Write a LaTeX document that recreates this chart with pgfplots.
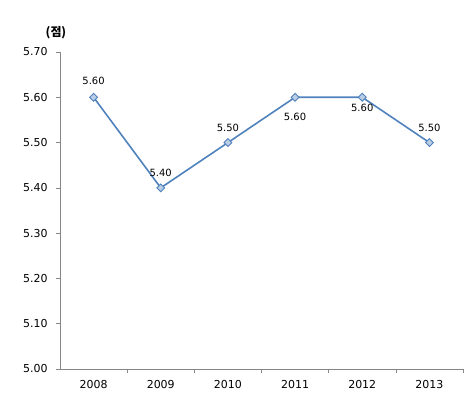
\documentclass[border=0pt]{standalone}
\usepackage{pgfplots}
\pgfplotsset{compat=1.18}
\usepackage{fontspec}
\setmainfont{DejaVu Sans}
\newfontfamily\kr{Noto Sans CJK KR}
\definecolor{linec}{RGB}{79,129,189}
\definecolor{markf}{RGB}{185,205,229}
\definecolor{axc}{RGB}{134,134,134}
\begin{document}
\begin{tikzpicture}
\useasboundingbox (0,0) rectangle (467bp,415bp);
\begin{axis}[
  at={(60bp,46bp)}, anchor=south west,
  scale only axis, width=403bp, height=317bp,
  xmin=-0.5, xmax=5.5, ymin=5.0, ymax=5.7,
  axis x line*=bottom, axis y line*=left,
  axis line style={axc, line width=0.8pt},
  xtick={0,1,2,3,4,5},
  xticklabels={2008,2009,2010,2011,2012,2013},
  major x tick style={draw=none},
  minor xtick={0.5,1.5,2.5,3.5,4.5,5.5},
  minor x tick style={axc, line width=0.6pt},
  minor tick length=4bp,
  xtick pos=bottom,
  ytick={5.0,5.1,...,5.71},
  ytick style={axc, line width=0.6pt},
  major tick length=4bp,
  tick align=outside,
  /pgf/number format/assume math mode=true,
  yticklabel={\pgfmathprintnumber[fixed,fixed zerofill,precision=2]{\tick}},
  yticklabel style={font=\fontsize{11}{13}\selectfont, xshift=-5bp},
  xticklabel style={font=\fontsize{11}{13}\selectfont, yshift=-4bp},
  ylabel={\kr\bfseries (점)},
  every axis y label/.style={at={(rel axis cs:0,1)}, anchor=center, yshift=19bp, xshift=-4bp, font=\fontsize{12}{14}\selectfont},
  clip=false,
]
\addplot[color=linec, line width=1.6pt, mark=square*, mark size=2.8pt,
  mark options={fill=markf, draw=linec, line width=0.9pt, rotate=45},
  nodes near coords,
  point meta=explicit symbolic,
  visualization depends on={value \thisrow{dy} \as \dy},
  every node near coord/.append style={anchor=center, rotate=0, yshift=\dy bp, font=\fontsize{10}{12}\selectfont, text=black},
] table[x=x, y=y, meta=lab] {
x y lab dy
0 5.60 5.60 16
1 5.40 5.40 15
2 5.50 5.50 15
3 5.60 5.60 -20
4 5.60 5.60 -11
5 5.50 5.50 15
};
\end{axis}
\end{tikzpicture}
\end{document}
